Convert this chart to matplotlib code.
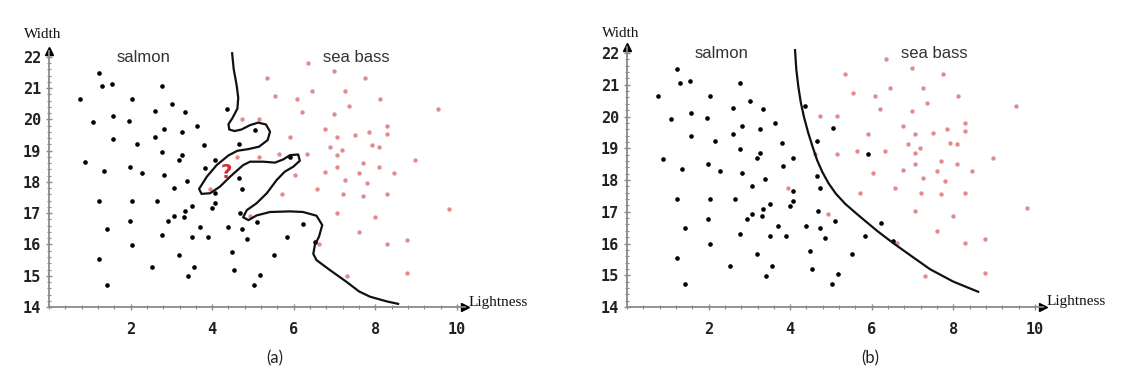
import matplotlib
matplotlib.use("Agg")
import matplotlib.pyplot as plt
from matplotlib.ticker import MultipleLocator

# salmon (black dots) - lightness, width
salmon_x = [1.22, 1.30, 1.54, 0.77, 2.03, 2.77, 1.09, 1.58, 1.95, 2.61, 3.01, 3.34,
            1.58, 2.16, 2.61, 2.81, 3.26, 3.63, 2.77, 3.26, 3.18, 3.79, 4.08, 3.83,
            0.89, 1.34, 1.99, 2.28, 2.81, 3.38, 3.06, 4.36, 5.06, 4.65, 4.65, 4.73,
            4.08, 1.22, 2.03, 2.65, 4.08, 3.50, 4.00, 3.34, 3.06, 3.30, 4.69, 2.93,
            1.99, 5.10, 1.42, 3.71, 4.40, 4.73, 2.77, 3.50, 3.91, 4.85, 2.03, 4.49,
            3.18, 1.22, 2.52, 3.55, 4.53, 5.18, 3.42, 1.42, 5.02, 6.24, 5.83, 6.53,
            5.51, 5.91]
salmon_y = [21.49, 21.06, 21.12, 20.65, 20.65, 21.06, 19.91, 20.12, 19.96, 20.28, 20.49, 20.23,
            19.39, 19.23, 19.44, 19.70, 19.60, 19.80, 18.97, 18.86, 18.70, 19.17, 18.70, 18.44,
            18.65, 18.34, 18.49, 18.28, 18.23, 18.02, 17.81, 20.33, 19.65, 19.23, 18.13, 17.76,
            17.65, 17.39, 17.39, 17.39, 17.34, 17.23, 17.18, 17.08, 16.92, 16.87, 17.02, 16.76,
            16.76, 16.71, 16.50, 16.55, 16.55, 16.50, 16.29, 16.24, 16.24, 16.18, 15.97, 15.76,
            15.66, 15.55, 15.29, 15.29, 15.19, 15.03, 14.98, 14.72, 14.72, 16.66, 16.24, 16.08,
            15.66, 18.81]

# sea bass (pink dots)
bass_x = [5.34, 4.73, 5.14, 4.61, 5.14, 3.95, 4.93, 6.61, 6.04, 6.77, 7.26, 7.59,
          7.79, 8.45, 5.71, 6.57, 7.22, 7.71, 8.28, 7.06, 8.00, 9.80, 7.59, 8.28,
          8.77, 7.30, 8.77, 6.36, 6.98, 7.75, 5.55, 6.08, 6.45, 7.26, 7.35, 8.12,
          6.20, 6.98, 9.55, 6.77, 7.06, 7.51, 7.84, 8.28, 8.28, 5.91, 6.89, 7.18,
          7.92, 8.08, 7.06, 5.63, 6.32, 8.98, 7.71, 7.06, 8.08]
bass_y = [21.33, 20.02, 20.02, 18.81, 18.81, 17.76, 16.92, 16.03, 18.23, 18.31, 18.07, 18.28,
          17.97, 18.28, 17.60, 17.76, 17.60, 17.55, 17.60, 17.02, 16.87, 17.13, 16.39, 16.03,
          16.13, 14.98, 15.08, 21.80, 21.54, 21.33, 20.75, 20.65, 20.91, 20.91, 20.43, 20.65,
          20.23, 20.17, 20.33, 19.70, 19.44, 19.49, 19.60, 19.80, 19.54, 19.44, 19.12, 19.02,
          19.17, 19.12, 18.86, 18.91, 18.91, 18.70, 18.60, 18.49, 18.49]

# decision boundary (a): overly complex
curve_a_x = [4.49, 4.53, 4.60, 4.64, 4.62, 4.50, 4.40, 4.42, 4.55, 4.72, 4.93, 5.13,
             5.32, 5.42, 5.36, 5.15, 4.88, 4.62, 4.40, 4.11, 3.87, 3.68, 3.74, 3.95,
             4.19, 4.44, 4.76, 4.93, 5.25, 5.54, 5.74, 5.91, 6.11, 6.15, 5.99, 5.78,
             5.58, 5.34, 5.09, 4.85, 4.76, 4.89, 5.09, 5.42, 5.91, 6.23, 6.56, 6.70,
             6.62, 6.52, 6.48, 6.56, 6.89, 7.30, 7.60, 7.87, 8.28, 8.56]
curve_a_y = [22.12, 21.60, 21.10, 20.70, 20.35, 20.05, 19.85, 19.68, 19.63, 19.68, 19.82, 19.90,
             19.84, 19.61, 19.34, 19.13, 19.05, 19.00, 18.85, 18.54, 18.17, 17.78, 17.62, 17.64,
             17.85, 18.17, 18.54, 18.65, 18.65, 18.62, 18.72, 18.86, 18.88, 18.68, 18.49, 18.33,
             18.06, 17.64, 17.32, 17.10, 16.87, 16.78, 16.93, 17.04, 17.06, 17.04, 16.92, 16.62,
             16.25, 15.99, 15.70, 15.50, 15.18, 14.80, 14.50, 14.33, 14.18, 14.10]

# decision boundary (b): smooth
curve_b_x = [4.12, 4.15, 4.20, 4.26, 4.34, 4.44, 4.55, 4.66, 4.79, 4.94, 5.12, 5.35,
             5.60, 5.85, 6.15, 6.53, 7.00, 7.43, 8.00, 8.61]
curve_b_y = [22.09, 21.50, 20.95, 20.45, 19.98, 19.50, 19.05, 18.63, 18.25, 17.90, 17.57, 17.25,
             16.97, 16.70, 16.38, 16.01, 15.58, 15.19, 14.80, 14.48]

x_ticks = [2, 4, 6, 8, 10]
y_ticks = [14, 15, 16, 17, 18, 19, 20, 21, 22]
question_xy = (4.34, 18.30)

AXIS_GRAY = "#8a8a8a"
TEXT_DARK = "#333333"


def draw_panel(ax, cx, cy, question=False, width_y=22.72):
    ax.scatter(bass_x, bass_y, s=10, color="#e48c8c", linewidths=0, zorder=2)
    ax.scatter(salmon_x, salmon_y, s=11, color="black", linewidths=0, zorder=3)
    ax.plot(cx, cy, color="#111111", lw=1.6, zorder=4, clip_on=False,
            solid_joinstyle="round")
    if question:
        ax.text(question_xy[0], question_xy[1], "?", color="#d42a2a", fontsize=14,
                fontweight="bold", ha="center", va="center", zorder=5)

    ax.set_xlim(0, 10.2)
    ax.set_ylim(14, 22.2)
    for s in ["top", "right"]:
        ax.spines[s].set_visible(False)
    for s in ["left", "bottom"]:
        ax.spines[s].set_color(AXIS_GRAY)
        ax.spines[s].set_linewidth(1.3)
    ax.plot(1, 0, marker=">", color="black", ms=6, transform=ax.transAxes, clip_on=False)
    ax.plot(0, 1, marker="^", color="black", ms=6, transform=ax.transAxes, clip_on=False)

    ax.set_xticks(x_ticks)
    ax.set_yticks(y_ticks)
    ax.xaxis.set_minor_locator(MultipleLocator(0.4))
    ax.yaxis.set_minor_locator(MultipleLocator(0.2))
    ax.tick_params(which="major", direction="inout", length=5, width=1, color=AXIS_GRAY,
                   labelsize=11, labelcolor="#222222")
    ax.tick_params(which="minor", direction="inout", length=3, width=0.8, color=AXIS_GRAY)
    ax.tick_params(axis="x", which="major", pad=8)
    ax.tick_params(axis="y", which="major", pad=3)
    for lab in ax.get_xticklabels() + ax.get_yticklabels():
        lab.set_family("DejaVu Sans Mono")
        lab.set_fontweight("bold")

    ax.text(-0.15, width_y, "Width", family="Liberation Serif", fontsize=11,
            ha="center", va="center", color="#111111")
    ax.text(10.28, 14.16, "Lightness", family="Liberation Serif", fontsize=11,
            ha="left", va="center", color="#111111")
    ax.text(2.32, 21.98, "salmon", family="Liberation Sans", fontsize=12,
            ha="center", va="center", color=TEXT_DARK)
    ax.text(7.53, 21.98, "sea bass", family="Liberation Sans", fontsize=12,
            ha="center", va="center", color=TEXT_DARK)


fig = plt.figure(figsize=(11.38, 3.76), dpi=100)
ax_a = fig.add_axes([0.04306, 0.18351, 0.36555, 0.68152])
ax_b = fig.add_axes([0.55097, 0.18351, 0.36555, 0.69242])

draw_panel(ax_a, curve_a_x, curve_a_y, question=True)
draw_panel(ax_b, curve_b_x, curve_b_y, width_y=22.62)

fig.text(275 / 1138, 1 - 358 / 376, "(a)", family="Lato", fontsize=12,
         ha="center", va="center", color="#222222")
fig.text(870 / 1138, 1 - 358 / 376, "(b)", family="Lato", fontsize=12,
         ha="center", va="center", color="#222222")

fig.savefig("out.png", dpi=100)
